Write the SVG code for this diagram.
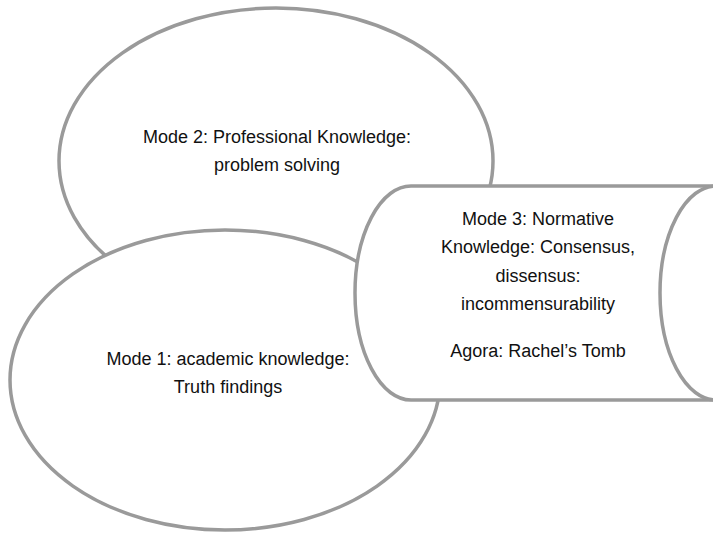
<svg xmlns="http://www.w3.org/2000/svg" width="713" height="537" viewBox="0 0 713 537">
<style>
.shape{fill:#ffffff;stroke:#9a9a9a;stroke-width:3.5}
.lbl{font-family:"Liberation Sans",Arial,sans-serif;font-size:18px;fill:#111;text-anchor:middle}
</style>
<rect width="713" height="537" fill="#ffffff"/>
<g id="mode2">
<ellipse class="shape" cx="276" cy="161" rx="217" ry="153"/>
<text class="lbl" x="277" y="143">Mode 2: Professional Knowledge:</text>
<text class="lbl" x="277" y="171">problem solving</text>
</g>
<g id="mode1">
<ellipse class="shape" cx="225" cy="380" rx="215" ry="150"/>
<text class="lbl" x="228" y="365">Mode 1: academic knowledge:</text>
<text class="lbl" x="228" y="393">Truth findings</text>
</g>
<g id="mode3">
<path class="shape" d="M411,186 L716,186 A56,107 0 0 1 716,400 L411,400 A56,107 0 0 1 411,186 Z"/>
<ellipse class="shape" cx="716" cy="293" rx="56" ry="107"/>
<text class="lbl" x="538" y="225">Mode 3: Normative</text>
<text class="lbl" x="538" y="253">Knowledge: Consensus,</text>
<text class="lbl" x="538" y="282">dissensus:</text>
<text class="lbl" x="538" y="310">incommensurability</text>
<text class="lbl" x="538" y="357">Agora: Rachel’s Tomb</text>
</g>
<g id="connectors"></g>
</svg>
